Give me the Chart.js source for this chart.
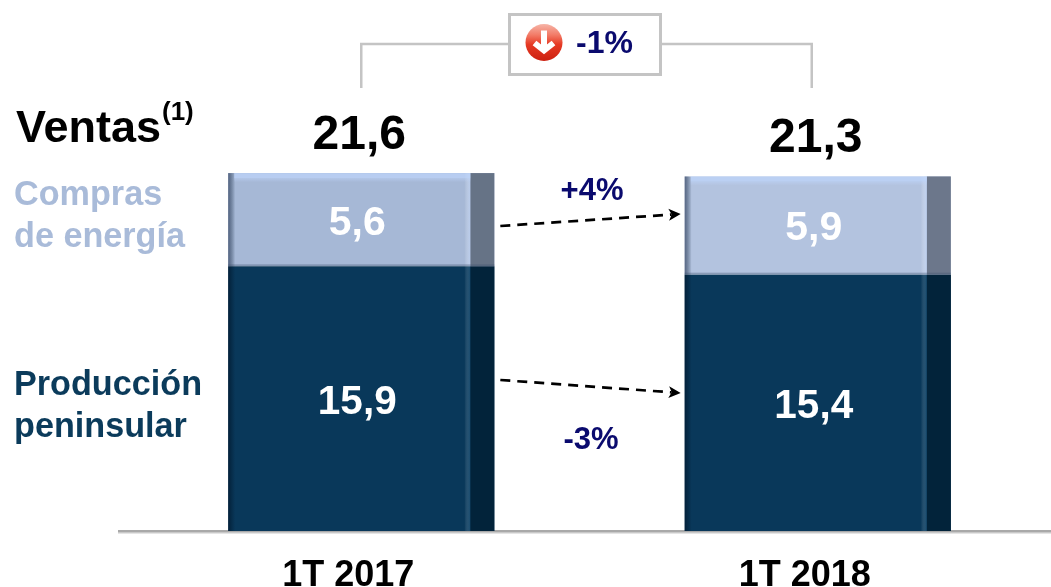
<!DOCTYPE html>
<html><head><meta charset="utf-8">
<style>html,body{margin:0;padding:0;background:#fff}canvas{display:block}</style>
<script src="https://cdn.jsdelivr.net/npm/chart.js@4/dist/chart.umd.min.js"></script>
</head><body><canvas id="c" width="1051" height="587"></canvas>
<script>
const categories = ['1T 2017', '1T 2018'];
const produccion = [15.9, 15.4];
const compras = [5.6, 5.9];
const totals = ['21,6', '21,3'];
const changes = ['+4%', '-3%'];
const totalChange = '-1%';

const FONT = '"Liberation Sans", Arial, sans-serif';
const DARK = '#09385A', NAVY = '#0A0A6E', GREY = '#C4C4C4';
const fmt = v => String(v).replace('.', ',');
const bold = s => `bold ${s}px ${FONT}`;

function text(ctx, s, x, y, size, color, align) {
  ctx.font = bold(size); ctx.fillStyle = color;
  ctx.textAlign = align || 'center'; ctx.textBaseline = 'middle';
  ctx.fillText(s, x, y);
}
function arrow(ctx, x1, y1, x2, y2) {
  const a = Math.atan2(y2 - y1, x2 - x1);
  ctx.save();
  ctx.strokeStyle = '#000'; ctx.fillStyle = '#000'; ctx.lineWidth = 2.7;
  ctx.setLineDash([10, 7]);
  ctx.beginPath(); ctx.moveTo(x1, y1);
  ctx.lineTo(x2 - 9 * Math.cos(a), y2 - 9 * Math.sin(a)); ctx.stroke();
  ctx.setLineDash([]);
  ctx.translate(x2, y2); ctx.rotate(a);
  ctx.beginPath(); ctx.moveTo(0, 0); ctx.lineTo(-12, -6); ctx.lineTo(-9, 0); ctx.lineTo(-12, 6); ctx.closePath(); ctx.fill();
  ctx.restore();
}
function shade(ctx, el, isTop, barIndex) {
  const L = el.x - el.width / 2, R = el.x + el.width / 2, T = el.y, H = el.base - el.y;
  const strip = 24;
  ctx.fillStyle = isTop ? (barIndex ? '#6C778B' : '#667386') : '#02233A';
  ctx.fillRect(R - strip, T, strip, H);
  let g = ctx.createLinearGradient(R - strip - 6, 0, R - strip, 0);
  g.addColorStop(0, 'rgba(255,255,255,0)');
  g.addColorStop(1, isTop ? 'rgba(200,220,255,.55)' : 'rgba(40,100,140,.40)');
  ctx.fillStyle = g; ctx.fillRect(R - strip - 6, T, 6, H);
  g = ctx.createLinearGradient(L, 0, L + 7, 0);
  g.addColorStop(0, isTop ? 'rgba(50,65,95,.7)' : 'rgba(0,20,40,.65)');
  g.addColorStop(1, 'rgba(0,20,40,0)');
  ctx.fillStyle = g; ctx.fillRect(L, T, 7, H);
  if (isTop) {
    ctx.fillStyle = 'rgba(190,212,250,.75)';
    ctx.fillRect(L + 6, T, el.width - strip - 6, 5);
    g = ctx.createLinearGradient(0, T + 5, 0, T + 9);
    g.addColorStop(0, 'rgba(190,212,250,.5)'); g.addColorStop(1, 'rgba(190,212,250,0)');
    ctx.fillStyle = g; ctx.fillRect(L + 6, T + 5, el.width - strip - 6, 4);
    ctx.fillStyle = 'rgba(60,80,110,.35)'; ctx.fillRect(L, el.base - 2, el.width, 2);
  }
}

const decorations = {
  id: 'decorations',
  beforeDatasetsDraw(chart) {
    const { ctx } = chart;
    const y0 = chart.scales.y.getPixelForValue(0);
    ctx.fillStyle = '#A9A9A9'; ctx.fillRect(118, y0 - 1, 933, 2.5);
    ctx.fillStyle = 'rgba(0,0,0,.10)'; ctx.fillRect(118, y0 + 1.5, 933, 1.5);
  },
  afterDatasetsDraw(chart) {
    const { ctx } = chart;
    const low = chart.getDatasetMeta(0).data, up = chart.getDatasetMeta(1).data;
    [0, 1].forEach(i => {
      shade(ctx, low[i], false, i);
      shade(ctx, up[i], true, i);
      const cx = low[i].x - 4;
      text(ctx, fmt(produccion[i]), cx, (low[i].y + low[i].base) / 2 + 4, 40.5, '#fff');
      text(ctx, fmt(compras[i]), cx, (up[i].y + up[i].base) / 2 + 3.5, 41, '#fff');
      text(ctx, totals[i], low[i].x - 2, up[i].y - 37.5, 48, '#000');
    });
    const xa = low[0].x, xb = low[1].x - 6;
    ctx.strokeStyle = GREY; ctx.lineWidth = 2.5;
    ctx.beginPath(); ctx.moveTo(xa, 88); ctx.lineTo(xa, 44); ctx.lineTo(509, 44); ctx.stroke();
    ctx.beginPath(); ctx.moveTo(661, 44); ctx.lineTo(xb, 44); ctx.lineTo(xb, 88); ctx.stroke();
    ctx.lineWidth = 3; ctx.strokeRect(509.5, 14.5, 151, 60);
    // icon
    const ix = 544, iy = 42.5, r = 18.5;
    let g = ctx.createLinearGradient(0, iy - r, 0, iy + r);
    g.addColorStop(0, '#F6B5A8'); g.addColorStop(.3, '#F27A66'); g.addColorStop(.55, '#E63A24'); g.addColorStop(1, '#CC2010');
    ctx.fillStyle = g; ctx.beginPath(); ctx.arc(ix, iy, r, 0, Math.PI * 2); ctx.fill();
    ctx.strokeStyle = '#fff'; ctx.lineWidth = 6; ctx.lineCap = 'butt'; ctx.lineJoin = 'miter';
    ctx.beginPath(); ctx.moveTo(ix, iy - 12); ctx.lineTo(ix, iy + 7);
    ctx.moveTo(ix - 9.5, iy + 0.5); ctx.lineTo(ix, iy + 8); ctx.lineTo(ix + 9.5, iy + 0.5); ctx.stroke();
    text(ctx, totalChange, 604.5, 44, 32, NAVY);
    const ax1 = low[0].x + low[0].width / 2 + 6, ax2 = low[1].x - low[1].width / 2 - 4;
    arrow(ctx, ax1, 226, ax2, 214);
    arrow(ctx, ax1, 380, ax2, 393);
    text(ctx, changes[0], 592, 191, 31, NAVY);
    text(ctx, changes[1], 591, 440, 31, NAVY);
    text(ctx, 'Ventas', 16, 130, 45, '#000', 'left');
    text(ctx, '(1)', 162, 113, 26, '#000', 'left');
    text(ctx, 'Compras', 14, 196, 34.2, '#A9BBD9', 'left');
    text(ctx, 'de energía', 14, 238, 34.2, '#A9BBD9', 'left');
    text(ctx, 'Producción', 14, 386, 34.2, '#0B3B5B', 'left');
    text(ctx, 'peninsular', 14, 428, 34.2, '#0B3B5B', 'left');
  }
};

new Chart(document.getElementById('c'), {
  type: 'bar',
  data: {
    labels: categories,
    datasets: [
      { label: 'Producción peninsular', data: produccion, backgroundColor: DARK },
      { label: 'Compras de energía', data: compras, backgroundColor: ['#A6B8D6', '#B3C3DF'] }
    ]
  },
  options: {
    responsive: false, animation: false,
    layout: { padding: { left: 133, right: 5, top: 0, bottom: 0 } },
    datasets: { bar: { categoryPercentage: 1, barPercentage: 0.583 } },
    plugins: { legend: { display: false }, tooltip: { enabled: false } },
    scales: {
      x: {
        stacked: true,
        afterFit: s => { s.height = 56; },
        grid: { display: false, drawTicks: false }, border: { display: false },
        ticks: { color: '#000', font: { family: FONT, weight: 'bold', size: 36 }, padding: 23, labelOffset: -13, maxRotation: 0, autoSkip: false }
      },
      y: { stacked: true, display: false, min: 0, max: 31.9 }
    }
  },
  plugins: [decorations]
});
</script></body></html>
